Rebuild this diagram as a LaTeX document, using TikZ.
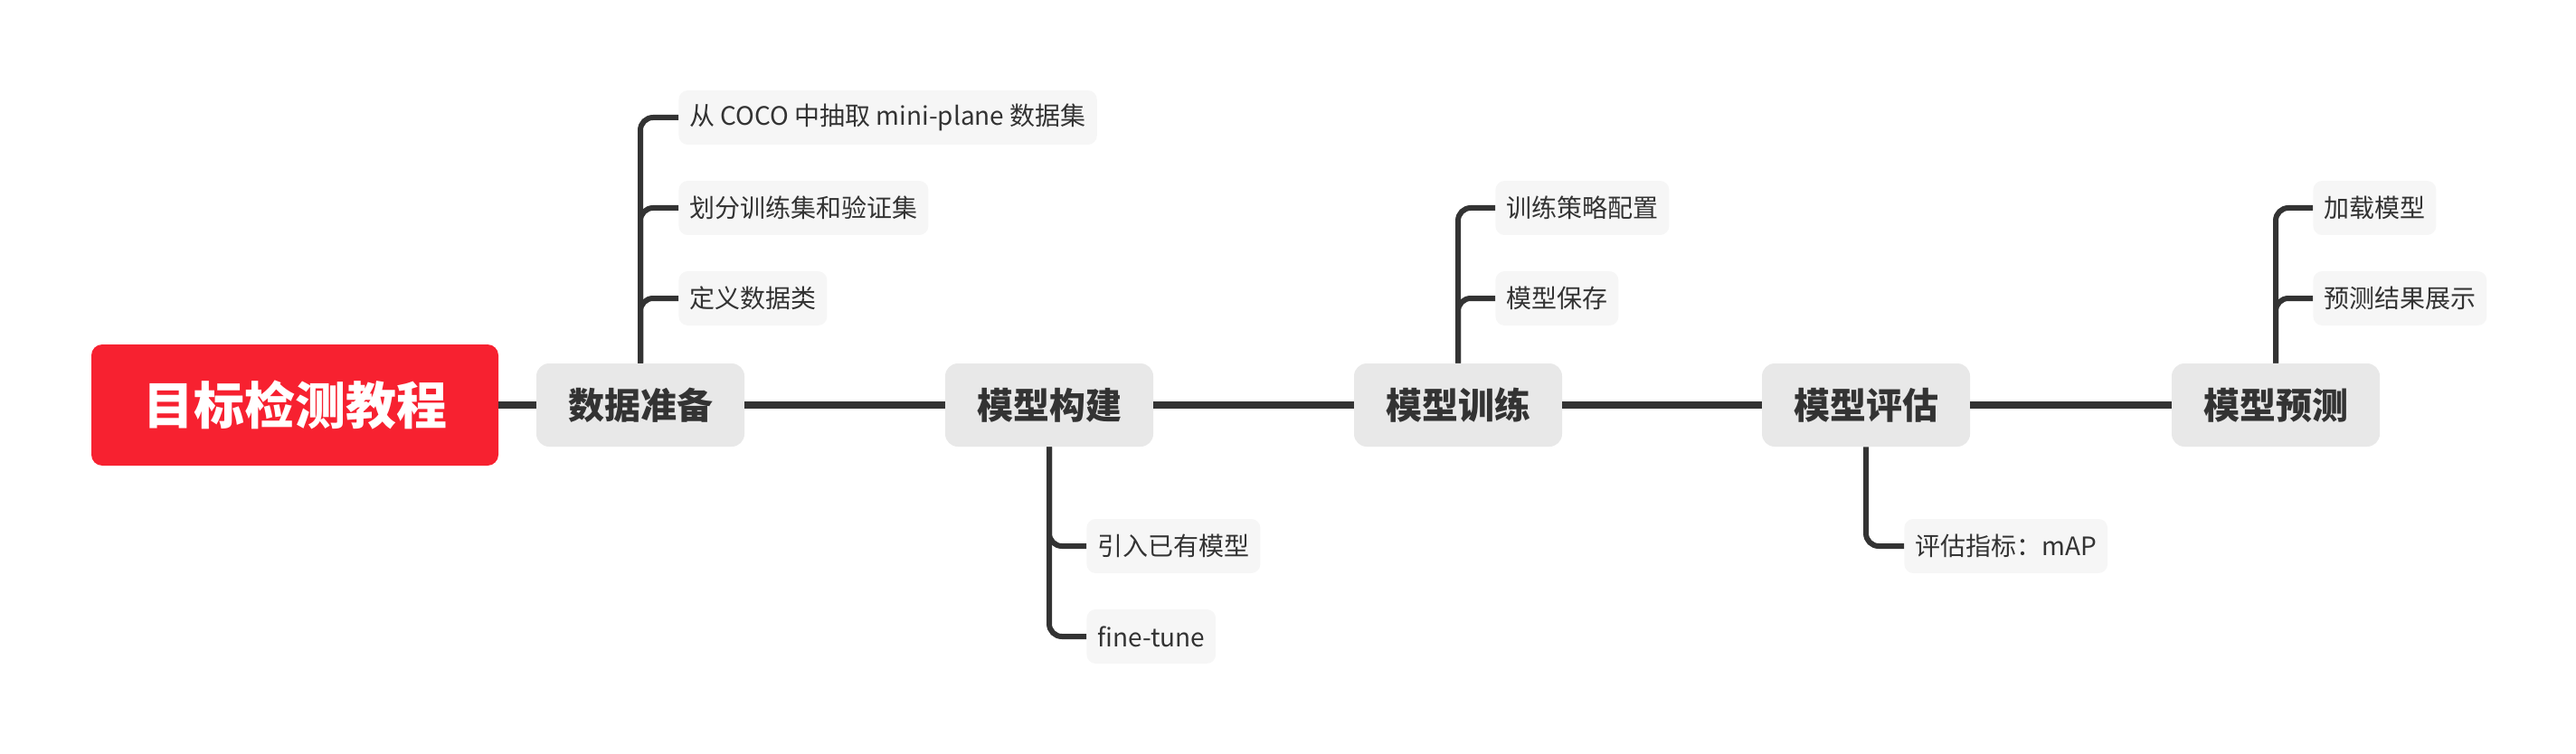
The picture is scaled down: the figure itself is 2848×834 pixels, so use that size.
\documentclass[tikz,border=0pt]{standalone}
\usepackage{fontspec}
\setmainfont{Noto Sans CJK SC}
\definecolor{rootRed}{RGB}{247,33,48}
\definecolor{topicGray}{RGB}{232,232,232}
\definecolor{subGray}{RGB}{246,246,246}
\definecolor{lineDark}{RGB}{51,51,51}
\begin{document}
\begin{tikzpicture}[x=0.5pt, y=-0.5pt,
    root/.style={fill=rootRed, rounded corners=6pt, minimum width=225pt, minimum height=67pt, text=white, font=\fontsize{28}{30}\selectfont\bfseries},
    topic/.style={fill=topicGray, rounded corners=7pt, minimum width=115pt, minimum height=46pt, text=lineDark, font=\fontsize{20}{22}\selectfont\bfseries},
    sub/.style={fill=subGray, rounded corners=5pt, anchor=west, minimum height=30pt, inner xsep=6pt, text=lineDark, font=\fontsize{14}{16}\selectfont},
    mainline/.style={draw=lineDark, line width=3.6pt},
    branch/.style={draw=lineDark, line width=3pt, rounded corners=7pt}]

        \useasboundingbox (0,0) rectangle (2848,834);

        % root and main topics
        \node[root] (goal) at (326,448) {目标检测教程};
        \node[topic] (data) at (708,448) {数据准备};
        \node[topic] (build) at (1160,448) {模型构建};
        \node[topic] (train) at (1612,448) {模型训练};
        \node[topic] (eval) at (2063,448) {模型评估};
        \node[topic] (pred) at (2516,448) {模型预测};

        \draw[mainline] (goal.east) -- (data.west);
        \draw[mainline] (data.east) -- (build.west);
        \draw[mainline] (build.east) -- (train.west);
        \draw[mainline] (train.east) -- (eval.west);
        \draw[mainline] (eval.east) -- (pred.west);

        % data
        \node[sub] (dataA) at (750,130) {从 COCO 中抽取 mini-plane 数据集};
        \node[sub] (dataB) at (750,230) {划分训练集和验证集};
        \node[sub] (dataC) at (750,330) {定义数据类};
        \draw[branch] (data.north) |- (dataA.west);
        \draw[branch] (data.north) |- (dataB.west);
        \draw[branch] (data.north) |- (dataC.west);

        % build
        \node[sub] (buildA) at (1201,604) {引入已有模型};
        \node[sub] (buildB) at (1201,704) {fine-tune};
        \draw[branch] (build.south) |- (buildA.west);
        \draw[branch] (build.south) |- (buildB.west);

        % train
        \node[sub] (trainA) at (1653,230) {训练策略配置};
        \node[sub] (trainB) at (1653,330) {模型保存};
        \draw[branch] (train.north) |- (trainA.west);
        \draw[branch] (train.north) |- (trainB.west);

        % eval
        \node[sub] (evalA) at (2105,604) {评估指标：mAP};
        \draw[branch] (eval.south) |- (evalA.west);

        % pred
        \node[sub] (predA) at (2557,230) {加载模型};
        \node[sub] (predB) at (2557,330) {预测结果展示};
        \draw[branch] (pred.north) |- (predA.west);
        \draw[branch] (pred.north) |- (predB.west);

\end{tikzpicture}
\end{document}
